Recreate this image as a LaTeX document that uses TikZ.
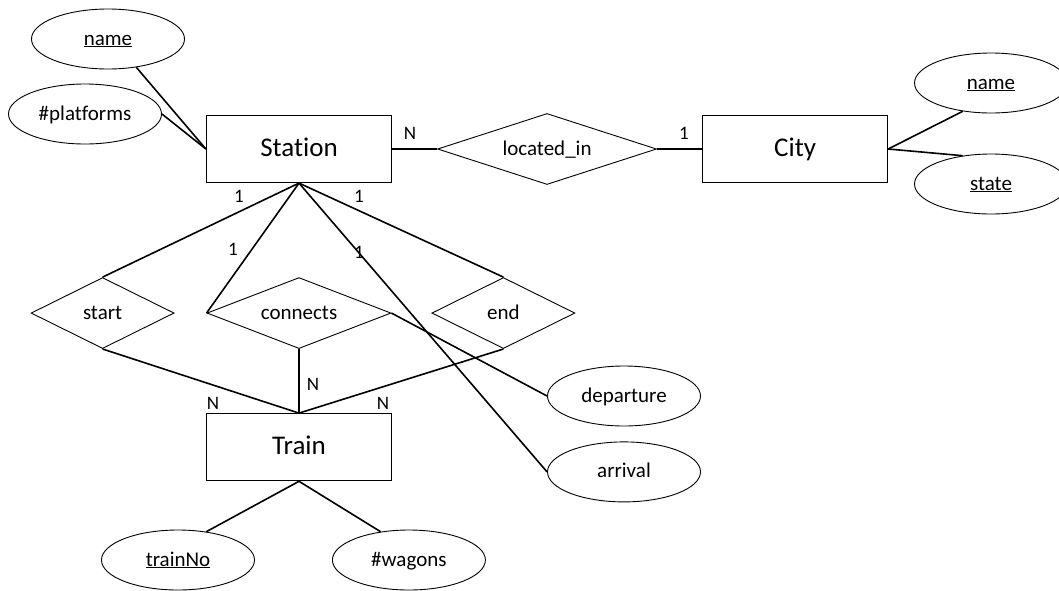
\documentclass[tikz,border=0pt]{standalone}
\usepackage{fontspec}
\setmainfont{Carlito}[RawFeature={-liga}]
\usetikzlibrary{shapes.geometric, positioning}

\begin{document}
\begin{tikzpicture}[x=1pt, y=-1pt, node distance=45pt]
\tikzstyle{entity} = [rectangle, draw, line width=1.2pt, minimum width=185pt, minimum height=67pt, text height=20.8pt, text depth=5.4pt, font=\fontsize{27}{31}\selectfont]
\tikzstyle{relation} = [diamond, draw, line width=0.9pt, inner sep=0pt, minimum height=71pt, text height=16.2pt, text depth=4.2pt, font=\fontsize{21}{25}\selectfont]
\tikzstyle{attr} = [ellipse, draw, line width=0.9pt, inner sep=0pt, minimum width=153pt, minimum height=60pt, text height=16.2pt, text depth=4.2pt, font=\fontsize{21}{25}\selectfont]
\tikzstyle{card} = [inner sep=0pt, font=\fontsize{19}{23}\selectfont]
\tikzstyle{link} = [line width=1.6pt]

\useasboundingbox (0,0) rectangle (1059,590);

% entities and relationships
\node[entity] (station) at (299,149) {Station};
\node[relation, minimum width=219pt, aspect=3.1, right=of station] (locin) {located\_in};
\node[entity, right=of locin] (city) {City};
\node[relation, minimum width=184pt, aspect=2.6, below=94pt of station] (connects) {connects};
\node[relation, minimum width=143pt, aspect=2, left=32pt of connects] (start) {start};
\node[relation, minimum width=143pt, aspect=2, right=40pt of connects] (end) {end};
\node[entity, below=230pt of station] (train) {Train};

% attributes
\node[attr] (sname) at (108,39) {\underline{name}};
\node[attr] (platforms) at (85,114) {\#platforms};
\node[attr] (cname) at (991,83) {\underline{name}};
\node[attr] (state) at (991,184) {\underline{state}};
\node[attr] (departure) at (624,396) {departure};
\node[attr, below=15pt of departure] (arrival) {arrival};
\node[attr] (trainno) at (178,560) {\underline{trainNo}};
\node[attr, right=77pt of trainno] (wagons) {\#wagons};

\draw[link] (sname.315) -- (station.west);
\draw[link] (platforms.east) -- (station.west);
\draw[link] (station.east) -- (locin.west);
\draw[link] (locin.east) -- (city.west);
\draw[link] (city.east) -- (cname.225);
\draw[link] (city.east) -- (state.135);
\draw[link] (station.south) -- (start.north);
\draw[link] (station.south) -- (connects.west);
\draw[link] (station.south) -- (end.north);
\draw[link] (station.south) -- (arrival.west);
\draw[link] (connects.east) -- (departure.west);
\draw[link] (start.south) -- (train.north);
\draw[link] (connects.south) -- (train.north);
\draw[link] (end.south) -- (train.north);
\draw[link] (train.south) -- (trainno.45);
\draw[link] (train.south) -- (wagons.135);

% cardinalities
\node[card] (n1) at (410,133) {N};
\node[card] (c1) at (684,133) {1};
\node[card] (s1) at (239,196) {1};
\node[card] (e1) at (359,196) {1};
\node[card] (k1) at (233,249) {1};
\node[card] (a1) at (359,252) {1};
\node[card] (kn) at (313,384) {N};
\node[card] (sn) at (213,403) {N};
\node[card] (en) at (383,403) {N};
\end{tikzpicture}
\end{document}
